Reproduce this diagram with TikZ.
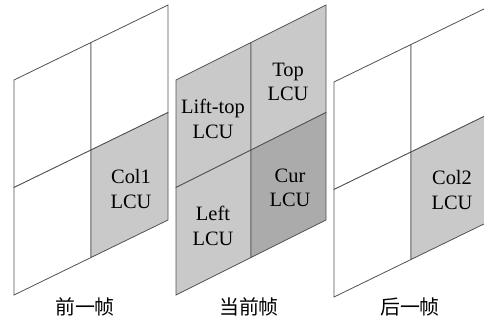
\documentclass[tikz,border=0pt]{standalone}
\usepackage{fontspec}
\setmainfont{Liberation Serif}
\newfontfamily\cjk{Noto Sans CJK SC}
\begin{document}
\begin{tikzpicture}[x=1bp,y=-1bp,
  cell/.style={draw=black!68,line width=0.8bp,line join=miter},
  lbl/.style={font=\fontsize{20.5}{24.5}\selectfont,align=center,inner sep=0pt},
  captxt/.style={font=\cjk\fontsize{20}{21}\selectfont,inner sep=0pt},
  lightcell/.style={fill=black!21},
  darkcell/.style={fill=black!33},
  blankcell/.style={fill=white}]
\useasboundingbox (0,0) rectangle (484,321);
\clip (0,0) rectangle (484,321);
% #1 left x, #2 top-left y, #3 width, #4-#7 cell styles (UL, UR, LL, LR)
\newcommand{\myframe}[7]{%
  \begin{scope}[shift={(#1,#2)},xscale=#3/154]
    \path[cell,#4] (0,0) -- (77,-37.5) -- (77,70) -- (0,107.5) -- cycle;
    \path[cell,#5] (77,-37.5) -- (154,-75) -- (154,32.5) -- (77,70) -- cycle;
    \path[cell,#6] (0,107.5) -- (77,70) -- (77,177.5) -- (0,215) -- cycle;
    \path[cell,#7] (77,70) -- (154,32.5) -- (154,140) -- (77,177.5) -- cycle;
  \end{scope}}
\myframe{14}{80}{154}{blankcell}{blankcell}{blankcell}{lightcell}
\myframe{176}{80}{150}{lightcell}{lightcell}{lightcell}{darkcell}
\myframe{334}{82}{154}{blankcell}{blankcell}{blankcell}{lightcell}
\node[lbl] (col1) at (131,189) {Col1\\LCU};
\node[lbl] (lt) at (213,119) {Lift-top\\LCU};
\node[lbl] (top) at (288,82) {Top\\LCU};
\node[lbl] (cur) at (290,188) {Cur\\LCU};
\node[lbl] (left) at (213,226) {Left\\LCU};
\node[lbl] (col2) at (452,190) {Col2\\LCU};
\node[captxt] (t1) at (85,307) {前一帧};
\node[captxt] (t2) at (249,307) {当前帧};
\node[captxt] (t3) at (410,307) {后一帧};
\end{tikzpicture}
\end{document}
